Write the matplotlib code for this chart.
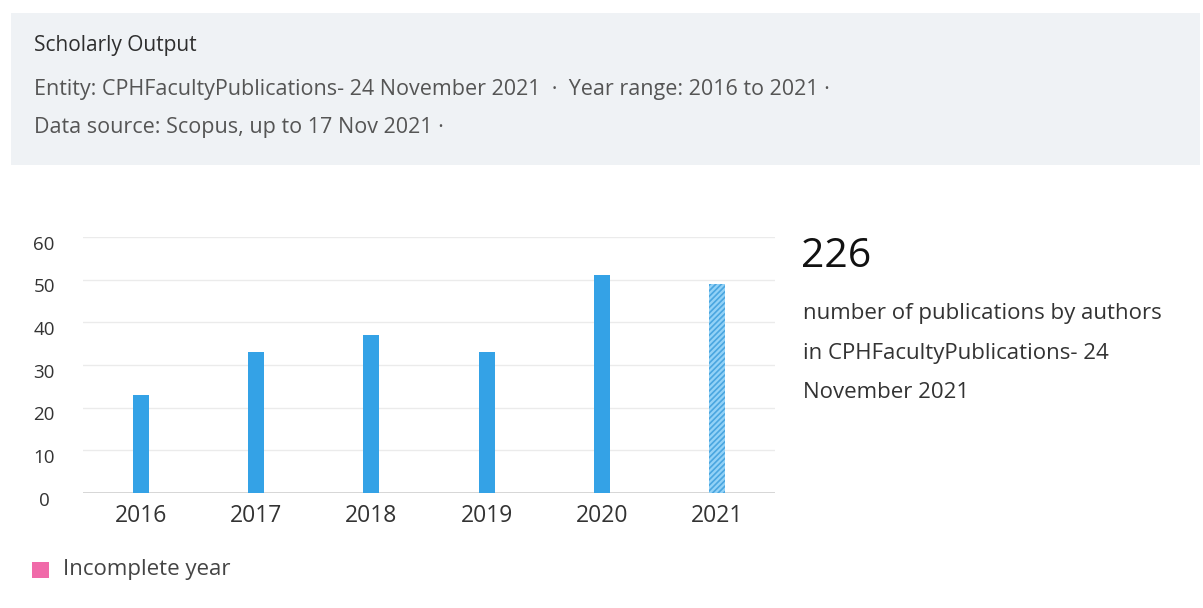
import matplotlib
matplotlib.use('Agg')
import matplotlib.pyplot as plt
from matplotlib.patches import Rectangle
from matplotlib.transforms import ScaledTranslation

plt.rcParams['font.family'] = ['Open Sans', 'DejaVu Sans']
plt.rcParams['hatch.linewidth'] = 1.2

# publications per year, 2021 is still incomplete
years = ['2016', '2017', '2018', '2019', '2020', '2021']
publications = [23, 33, 37, 33, 51, 49]
incomplete = [False, False, False, False, False, True]
y_ticks = [0, 10, 20, 30, 40, 50, 60]

title = 'Scholarly Output'
entity_line = 'Entity: CPHFacultyPublications- 24 November 2021  \u00b7  Year range: 2016 to 2021 \u00b7'
source_line = 'Data source: Scopus, up to 17 Nov 2021 \u00b7'
summary_lines = ['number of publications by authors',
                 'in CPHFacultyPublications- 24',
                 'November 2021']

W, H = 1203, 608
fig = plt.figure(figsize=(W / 100, H / 100), dpi=100)
fig.patch.set_facecolor('white')


def fx(px):
    return px / W


def fy(py):
    return 1 - py / H


# grey header panel
fig.patches.append(Rectangle((fx(11), fy(165)), fx(1189), 152 / H,
                             transform=fig.transFigure, facecolor='#eff2f5',
                             edgecolor='none', zorder=0))
fig.text(fx(34), fy(45), title, fontsize=15, color='#2e2e2e', va='center')
fig.text(fx(34), fy(90), entity_line, fontsize=15.5, color='#555555', va='center')
fig.text(fx(34), fy(128), source_line, fontsize=15.5, color='#555555', va='center')

# bar chart
ax = fig.add_axes([fx(83), fy(493), fx(775 - 83), (493 - 237) / H])
x = range(len(years))
for i, (v, inc) in enumerate(zip(publications, incomplete)):
    if inc:
        ax.bar(i, v, width=0.14, color='#93d2f7', edgecolor='#4aa6e0',
               hatch='//////', linewidth=0, zorder=3)
    else:
        ax.bar(i, v, width=0.14, color='#34a2e6', linewidth=0, zorder=3)

ax.set_xlim(-0.5, len(years) - 0.5)
ax.set_ylim(0, 60)
ax.set_yticks(y_ticks)
ax.set_xticks(list(x))
ax.set_xticklabels(years)
ax.grid(axis='y', color='#ebebeb', linewidth=1, zorder=0)
ax.axhline(0, color='#d0d0d0', linewidth=1.2, zorder=2)
for s in ax.spines.values():
    s.set_visible(False)
ax.tick_params(axis='both', length=0, colors='#333333')
ax.tick_params(axis='y', labelsize=13.5, pad=28)
ax.tick_params(axis='x', labelsize=16.5, pad=8)
# y labels are centred in their column and sit a little below the gridline
shift = ScaledTranslation(0, -4 / 72, fig.dpi_scale_trans)
for lab in ax.get_yticklabels():
    lab.set_horizontalalignment('center')
    lab.set_transform(lab.get_transform() + shift)

# legend for the incomplete year
fig.patches.append(Rectangle((fx(32), fy(578)), fx(17), 16 / H,
                             transform=fig.transFigure, facecolor='#f06aa9',
                             edgecolor='none'))
fig.text(fx(63), fy(569), 'Incomplete year', fontsize=16, color='#444444', va='center')

# total on the right
fig.text(fx(801), fy(257), str(sum(publications)), fontsize=29.5, color='#111111', va='center')
for k, line in enumerate(summary_lines):
    fig.text(fx(803), fy(314 + 39.5 * k), line, fontsize=16, color='#333333', va='center')

fig.savefig('out.png', dpi=100)
